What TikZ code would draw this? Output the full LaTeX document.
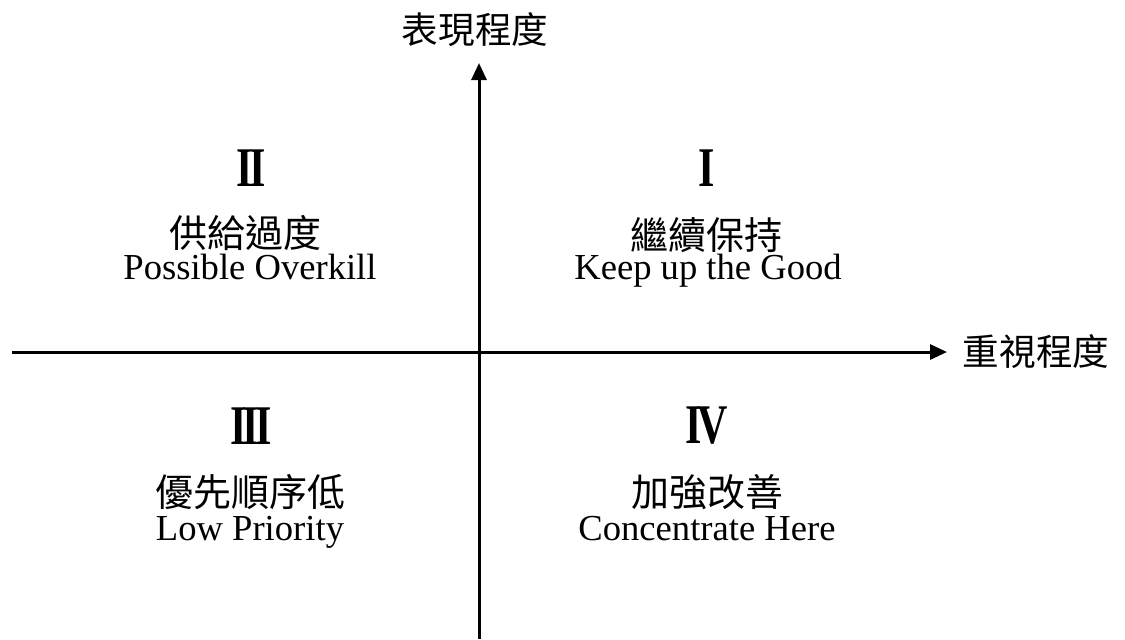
\documentclass[tikz,border=0pt]{standalone}
\usepackage{fontspec}
\setmainfont{Liberation Serif}
\newfontfamily\cjk{Noto Sans CJK TC}
\usetikzlibrary{arrows.meta}
\tikzset{
  axis/.style={line width=1.5pt, -{Triangle[length=8.5pt,width=7.5pt]}},
  numeral/.style={font=\bfseries\fontsize{28}{28}\selectfont, inner sep=0pt, anchor=center},
  zh/.style={font=\cjk\fontsize{19}{19}\selectfont, inner sep=0pt, anchor=center},
  en/.style={font=\fontsize{18.3}{18.3}\selectfont, inner sep=0pt, anchor=base},
  axlabel/.style={font=\cjk\fontsize{18.3}{18.3}\selectfont, inner sep=0pt, anchor=center}
}
\newcommand{\rmnum}[1]{\scalebox{0.75}[1]{#1}}
\newcommand{\rmI}{\rmnum{I}}
\newcommand{\rmII}{\rmnum{I\kern-0.08em I}}
\newcommand{\rmIII}{\rmnum{I\kern-0.09em I\kern-0.09em I}}
\newcommand{\rmIV}{\rmnum{I\kern-0.1em V}}
\begin{document}
\begin{tikzpicture}[x=0.5pt,y=-0.5pt]
\useasboundingbox (0,0) rectangle (1125,639);
% axes
\coordinate (vb) at (479,639);
\coordinate (vt) at (479,63);
\coordinate (hl) at (12,352);
\coordinate (hr) at (947,352);
\draw[axis] (vb) -- (vt);
\draw[axis] (hl) -- (hr);
\node[axlabel] (ylab) at (475,30) {表現程度};
\node[axlabel] (xlab) at (1036,352) {重視程度};
% Quadrant II
\node[numeral] (n2) at (251,168) {\rmII};
\node[zh] (z2) at (245,233) {供給過度};
\node[en] (e2) at (250,279) {Possible Overkill};
% Quadrant I
\node[numeral] (n1) at (707,168) {\rmI};
\node[zh] (z1) at (706,235) {繼續保持};
\node[en] (e1) at (708,279) {Keep up the Good};
% Quadrant III
\node[numeral] (n3) at (251,426) {\rmIII};
\node[zh] (z3) at (250,492) {優先順序低};
\node[en] (e3) at (250,540) {Low Priority};
% Quadrant IV
\node[numeral] (n4) at (707,426) {\rmIV};
\node[zh] (z4) at (707,492) {加強改善};
\node[en] (e4) at (707,540) {Concentrate Here};
\end{tikzpicture}
\end{document}
